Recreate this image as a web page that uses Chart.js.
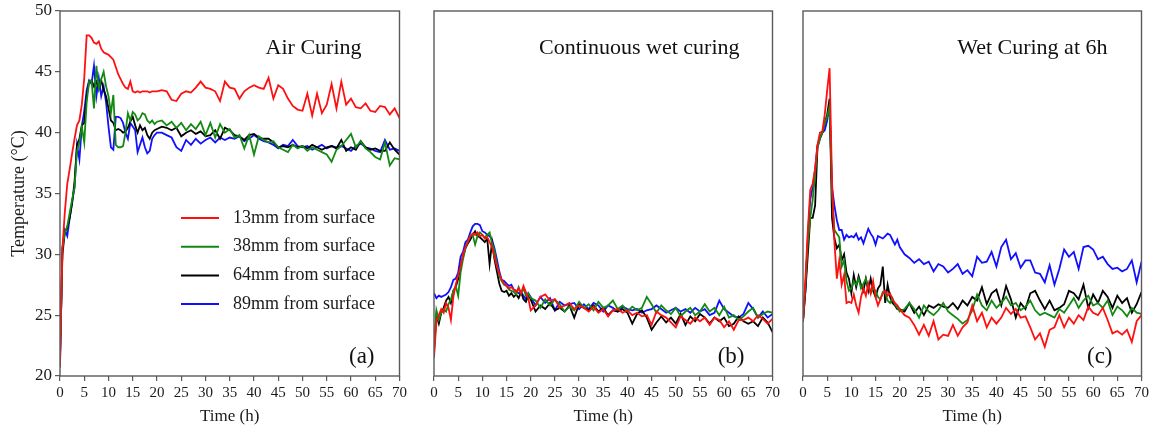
<!DOCTYPE html>
<html>
<head>
<meta charset="utf-8">
<script src="https://cdn.jsdelivr.net/npm/chart.js@4.4.1/dist/chart.umd.min.js"></script>
<style>
  body { margin: 0; background: #fff; width: 1157px; height: 430px; overflow: hidden; position: relative; }
  .panel { position: absolute; top: 0; height: 430px; }
</style>
</head>
<body>
<div class="panel" style="left:0;width:410px"><canvas id="chartA"></canvas></div>
<div class="panel" style="left:424px;width:359px"><canvas id="chartB"></canvas></div>
<div class="panel" style="left:793px;width:359px"><canvas id="chartC"></canvas></div>
<script>
// time axis (h), half-hour readings up to 20 h then hourly
const hours = [0,0.5,1,1.5,2,2.5,3,3.5,4,4.5,5,5.5,6,6.5,7,7.5,8,8.5,9,9.5,10,10.5,11,11.5,12,12.5,13,13.5,14,14.5,15,15.5,16,16.5,17,17.5,18,18.5,19,19.5,20,
  21,22,23,24,25,26,27,28,29,30,31,32,33,34,35,36,37,38,39,40,41,42,43,44,45,46,47,48,49,50,
  51,52,53,54,55,56,57,58,59,60,61,62,63,64,65,66,67,68,69,70];

const xTicks = [0,5,10,15,20,25,30,35,40,45,50,55,60,65,70];
const yTicks = [20,25,30,35,40,45,50];

const seriesLabels = ['13mm from surface', '38mm from surface', '64mm from surface', '89mm from surface'];

// (a) Air curing
const airRed = [20.7,30.5,33.5,35.8,37.0,38.3,39.5,40.6,41.0,42.3,44.5,48.0,48.0,47.8,47.4,47.3,47.5,46.9,46.6,46.5,46.4,46.2,46.0,45.4,44.8,44.4,44.0,43.7,43.6,44.2,43.4,43.3,43.4,43.3,43.4,43.4,43.4,43.3,43.4,43.4,43.4,
  43.5,43.4,42.7,42.6,43.2,43.4,43.3,43.7,44.2,43.7,43.6,43.4,42.6,44.2,43.7,43.6,42.8,43.4,43.7,43.9,
  43.7,43.6,44.5,42.8,43.9,43.6,42.8,42.2,41.9,41.8,43.2,41.4,43.2,41.6,42.3,44.0,42.0,44.2,42.3,42.8,
  42.1,42.0,42.4,41.8,41.7,42.2,42.1,41.5,42.0,41.2];
const airGreen = [21.5,30.5,31.8,32.3,33.4,34.5,35.5,38.5,39.2,40.5,39.2,42.5,44.2,44.3,42.0,45.5,43.6,44.4,45.0,43.8,43.0,41.6,43.1,39.0,38.8,38.8,38.9,40.0,41.6,41.0,41.7,41.5,41.0,41.2,41.6,41.5,41.0,40.8,41.0,40.7,40.9,
  41.0,40.6,40.9,40.4,40.8,40.2,40.7,40.3,40.9,39.8,40.8,39.6,40.7,40.0,40.3,39.6,39.8,38.7,39.8,38.2,
  39.7,39.4,39.2,39.3,38.8,38.6,38.4,39.0,38.7,38.9,38.5,38.8,38.6,38.4,38.2,37.6,38.6,38.9,39.4,39.9,
  38.8,39.3,38.7,38.4,38.0,37.8,39.2,37.3,37.9,37.8];
const airBlack = [21.5,30.0,31.8,32.2,33.0,34.2,36.0,39.0,39.5,40.6,40.8,43.0,44.2,44.3,43.8,44.2,43.6,44.3,43.5,43.0,42.0,41.0,40.8,40.2,40.3,40.2,40.0,40.1,40.4,40.9,41.3,40.6,40.0,40.6,40.2,40.4,39.8,39.5,40.0,40.2,40.3,
  40.5,40.4,40.2,40.4,39.7,40.0,40.2,39.9,40.1,39.7,39.8,40.2,39.5,40.4,40.2,39.8,39.7,39.4,39.8,39.9,
  39.6,39.5,39.5,39.2,38.8,38.9,38.8,39.0,38.8,38.9,38.7,39.0,38.8,38.6,38.8,38.9,38.7,39.4,38.5,38.8,
  38.6,39.3,38.8,38.6,38.7,38.5,38.5,39.2,38.6,38.2];
const airBlue = [21.0,30.5,32.0,31.5,33.0,34.3,35.5,39.0,37.8,40.5,41.8,43.5,44.3,44.0,45.5,43.0,44.5,43.0,43.8,42.5,40.5,38.8,38.6,41.3,41.3,41.2,40.8,40.0,39.5,40.8,40.5,40.2,38.4,39.0,39.6,38.8,38.3,38.5,39.5,39.8,40.0,
  40.0,39.8,39.6,38.8,38.5,39.4,39.0,39.5,39.1,39.4,39.6,39.2,39.6,39.4,39.6,39.5,39.7,39.3,39.5,39.8,
  39.5,39.3,39.2,39.0,38.7,39.0,38.9,39.4,38.9,38.8,38.9,38.6,38.8,39.0,38.7,38.9,38.8,38.9,38.7,38.5,
  38.9,39.1,38.8,38.7,38.5,38.4,39.4,38.6,38.7,38.5];

// (b) Continuous wet curing
const wetRed = [21.5,24.5,25.0,25.5,25.2,26.0,25.6,24.6,26.5,27.5,28.3,29.0,30.0,30.6,31.0,31.5,31.7,31.6,31.8,31.5,31.6,31.3,31.4,31.0,30.6,29.8,29.0,28.4,27.9,27.6,27.4,27.2,27.3,27.1,26.9,27.2,26.8,27.4,26.9,26.4,25.4,
  25.8,26.5,26.7,26.2,26.3,25.6,25.8,26.0,25.5,25.8,25.6,25.3,25.7,25.2,25.5,24.9,25.4,25.5,25.2,25.4,
  25.0,25.2,24.9,25.0,24.2,25.3,25.0,24.8,24.4,24.0,24.9,24.6,24.3,24.8,24.5,24.8,24.2,24.8,24.6,24.0,
  24.5,23.8,24.6,24.6,24.8,24.5,25.0,24.7,24.3,24.7];
const wetGreen = [22.5,25.4,24.6,25.2,25.5,25.3,25.9,26.3,27.0,27.4,26.6,28.5,29.6,30.5,31.1,31.5,31.6,30.8,31.5,31.8,31.6,31.4,31.6,31.8,30.9,30.3,29.2,28.2,27.8,27.5,27.4,27.1,27.0,26.9,26.7,27.3,26.8,27.2,26.6,26.8,26.4,
  26.2,25.6,26.3,25.8,26.3,25.9,25.3,25.7,25.4,26.1,25.6,25.9,25.4,26.1,25.6,25.8,26.2,25.5,25.8,25.3,
  25.7,25.4,25.6,26.5,25.9,25.2,25.8,25.4,25.1,25.6,24.9,25.3,25.6,25.0,25.3,25.9,25.3,25.6,25.0,25.7,
  24.8,25.0,24.6,24.9,25.3,25.6,24.8,25.1,25.3,25.2];
const wetBlack = [22.0,25.0,24.3,25.2,25.6,26.2,26.5,26.0,27.0,27.3,28.0,29.0,29.8,30.5,30.9,31.2,31.6,31.9,31.5,31.4,31.2,31.0,31.3,29.2,31.0,29.6,28.6,27.6,27.0,26.9,27.0,26.6,26.8,26.5,26.7,26.4,26.9,26.3,26.1,26.6,26.3,
  25.3,25.8,25.5,26.0,25.4,25.6,25.3,25.8,24.8,25.9,25.6,25.4,25.8,25.3,25.6,25.0,25.4,25.3,25.5,25.2,
  24.3,25.1,25.4,24.8,23.8,24.4,24.9,24.4,24.8,24.3,25.1,24.2,24.9,24.5,25.1,24.8,24.3,24.8,24.5,24.8,
  24.1,24.3,24.9,24.5,24.3,24.5,24.1,24.8,24.4,23.6];
const wetBlue = [26.8,26.4,26.6,26.5,26.6,26.7,26.9,27.3,27.9,28.0,28.5,29.8,30.2,31.0,31.2,31.8,32.3,32.5,32.5,32.4,31.9,31.8,31.6,31.5,31.2,30.5,29.6,28.6,27.9,27.8,27.6,27.4,27.5,27.1,27.0,26.8,26.9,26.6,26.3,26.8,26.5,
  25.8,26.5,26.0,26.4,25.4,26.1,25.8,25.9,26.0,25.5,25.9,25.5,26.0,25.8,25.3,25.8,25.6,25.3,25.7,25.5,
  25.4,25.5,25.2,25.4,25.5,25.8,25.5,25.2,25.4,25.6,25.3,25.5,25.2,25.6,25.3,25.5,25.0,25.2,26.2,25.5,
  25.2,24.9,24.8,25.1,26.0,25.5,24.8,25.3,24.8,25.1];

// (c) Wet curing at 6h
const sixRed = [24.5,28.0,32.0,35.3,35.8,37.0,39.0,40.0,40.1,41.5,43.5,45.3,36.0,31.0,28.0,29.5,27.5,28.3,26.0,26.1,26.0,26.7,25.8,25.2,26.5,27.2,26.6,27.6,26.8,27.8,26.5,25.8,26.3,26.8,27.0,26.6,26.8,26.3,26.0,25.8,25.5,
  25.0,24.8,24.2,23.4,24.2,23.3,24.5,23.0,23.4,23.3,24.2,23.3,24.0,24.4,25.8,24.5,25.2,24.0,24.8,24.3,
  24.8,25.6,25.1,25.5,24.8,24.9,24.0,23.0,23.5,22.4,23.8,24.0,25.0,24.0,24.8,24.3,25.0,24.6,25.7,25.2,
  25.0,25.6,24.6,23.5,23.7,23.4,23.8,22.8,24.5,25.0];
const sixGreen = [24.5,27.5,31.0,33.0,34.5,36.5,38.8,39.5,40.0,40.8,41.3,42.2,35.0,32.0,31.7,31.4,29.0,29.5,27.8,27.0,27.2,27.8,27.5,28.0,27.2,27.6,28.0,27.3,26.8,27.2,27.0,26.5,26.3,26.9,26.8,26.2,26.0,26.4,25.9,25.6,25.3,
  25.5,26.0,25.5,24.8,25.8,25.3,25.0,25.4,26.0,25.3,25.0,24.7,24.3,24.6,25.4,26.7,25.8,25.4,26.2,25.6,
  26.0,26.5,25.8,26.0,25.4,25.7,26.2,25.4,25.0,25.2,25.0,24.8,25.5,25.2,25.8,26.4,25.6,26.2,26.6,25.8,
  26.0,25.6,26.2,25.0,25.7,25.4,24.9,25.6,25.2,25.1];
const sixBlack = [24.5,27.0,30.0,33.0,33.0,34.0,38.8,39.5,40.0,40.8,41.5,42.8,33.0,31.3,30.5,30.8,29.5,30.0,28.5,28.0,26.8,28.3,27.3,28.2,27.5,27.0,28.0,27.0,28.0,27.0,26.5,27.2,27.5,29.0,26.0,27.5,26.5,26.0,25.8,25.5,25.5,
  25.3,26.0,25.2,25.7,25.0,25.8,25.6,25.9,25.7,25.6,26.0,25.5,26.2,25.8,26.5,26.2,27.3,25.9,26.8,27.1,
  25.8,27.4,26.3,24.8,26.0,25.5,26.8,27.0,26.2,25.5,26.2,25.4,25.6,25.9,27.0,26.8,26.3,27.5,25.6,26.7,
  26.0,27.0,26.5,25.6,26.6,26.0,26.4,25.2,25.9,26.9];
const sixBlue = [24.5,27.0,31.5,34.5,35.5,37.0,39.0,39.6,40.0,40.2,41.0,42.2,35.5,34.0,32.8,32.0,32.0,31.2,31.6,31.4,31.5,31.4,31.7,31.2,31.4,30.9,31.5,32.1,31.7,31.4,30.8,31.5,31.4,31.3,31.5,31.7,31.6,31.2,30.8,31.2,30.6,
  30.0,29.7,29.3,29.6,29.2,29.4,28.6,29.2,29.0,28.5,28.8,29.2,28.4,28.7,28.2,29.8,29.3,29.4,30.2,29.0,
  30.6,31.2,29.6,30.1,28.9,29.5,29.5,28.5,28.4,27.7,29.1,27.5,28.8,30.4,29.8,30.2,28.8,30.6,30.7,30.4,
  29.6,29.8,29.2,28.8,28.9,28.6,28.8,29.5,27.7,29.4];

const lineColors = ['#ff1010', '#128a12', '#000000', '#1010ff'];
const FONT = '"Liberation Serif", "DejaVu Serif", serif';
const AXIS = '#5a5a5a';

const framePlugin = {
    id: 'frame',
    afterDatasetsDraw(chart, args, opts) {
        const { ctx, chartArea: a } = chart;
        ctx.save();
        ctx.strokeStyle = AXIS;
        ctx.lineWidth = 1.4;
        ctx.strokeRect(a.left, a.top, a.right - a.left, a.bottom - a.top);

        ctx.fillStyle = '#111';
        ctx.textAlign = 'right';
        ctx.textBaseline = 'middle';
        ctx.font = '22px ' + FONT;
        ctx.fillText(opts.title, a.right - opts.titleDx, a.top + 37);
        ctx.font = '23px ' + FONT;
        ctx.fillText(opts.tag, a.right - opts.tagDx, a.bottom - 19);

        // legend inside the plot, only on panel (a)
        if (opts.legend) {
            ctx.textAlign = 'left';
            ctx.font = '18px ' + FONT;
            chart.data.datasets.forEach((ds, i) => {
                const y = a.top + 207 + i * 28.7;
                ctx.strokeStyle = ds.borderColor;
                ctx.lineWidth = 2;
                ctx.beginPath();
                ctx.moveTo(a.left + 121, y);
                ctx.lineTo(a.left + 159, y);
                ctx.stroke();
                ctx.fillStyle = '#1a1a1a';
                ctx.fillText(ds.label, a.left + 173, y);
            });
        }
        ctx.restore();
    }
};

const makeChart = (id, series, panel) => {
    const datasets = series.map((values, i) => ({
        label: seriesLabels[i],
        data: values.map((v, k) => ({ x: hours[k], y: v })),
        borderColor: lineColors[i],
        borderWidth: 1.8,
        pointRadius: 0,
        tension: 0,
        fill: false
    }));
    return new Chart(document.getElementById(id), {
        type: 'line',
        data: { datasets },
        plugins: [framePlugin],
        options: {
            responsive: true,
            maintainAspectRatio: false,
            animation: false,
            layout: { padding: { top: 11, right: 10, left: 0, bottom: 0 } },
            plugins: {
                legend: { display: false },
                tooltip: { enabled: false },
                frame: panel
            },
            scales: {
                x: {
                    type: 'linear',
                    min: 0, max: 70,
                    afterFit: s => { s.height = 54; },
                    afterBuildTicks: s => { s.ticks = xTicks.map(v => ({ value: v })); },
                    border: { display: false },
                    grid: { drawOnChartArea: false, tickLength: 5, color: AXIS, lineWidth: 1.2 },
                    ticks: { autoSkip: false, maxRotation: 0, padding: 3, color: '#1a1a1a', font: { family: FONT, size: 15 } },
                    title: { display: true, text: 'Time (h)', color: '#1a1a1a', padding: { top: 0, bottom: 3 }, font: { family: FONT, size: 17 } }
                },
                y: {
                    min: 20, max: 50,
                    // fixed width, and no extra room for the top/bottom label overhang
                    afterFit: s => { s.width = panel.yLabels ? 60 : 10; s.paddingTop = 0; s.paddingBottom = 0; },
                    afterBuildTicks: s => { s.ticks = yTicks.map(v => ({ value: v })); },
                    border: { display: false },
                    grid: { display: panel.yLabels, drawOnChartArea: false, tickLength: 5, color: AXIS, lineWidth: 1.2 },
                    ticks: { display: panel.yLabels, padding: 3, color: '#1a1a1a', font: { family: FONT, size: 17 } },
                    title: { display: panel.yLabels, text: 'Temperature (°C)', color: '#1a1a1a', padding: { top: 8 }, font: { family: FONT, size: 18 } }
                }
            }
        }
    });
};

makeChart('chartA', [airRed, airGreen, airBlack, airBlue],
    { title: 'Air Curing', titleDx: 38, tag: '(a)', tagDx: 25, legend: true, yLabels: true });
makeChart('chartB', [wetRed, wetGreen, wetBlack, wetBlue],
    { title: 'Continuous wet curing', titleDx: 33, tag: '(b)', tagDx: 28, legend: false, yLabels: false });
makeChart('chartC', [sixRed, sixGreen, sixBlack, sixBlue],
    { title: 'Wet Curing at 6h', titleDx: 34, tag: '(c)', tagDx: 29, legend: false, yLabels: false });
</script>
</body>
</html>
